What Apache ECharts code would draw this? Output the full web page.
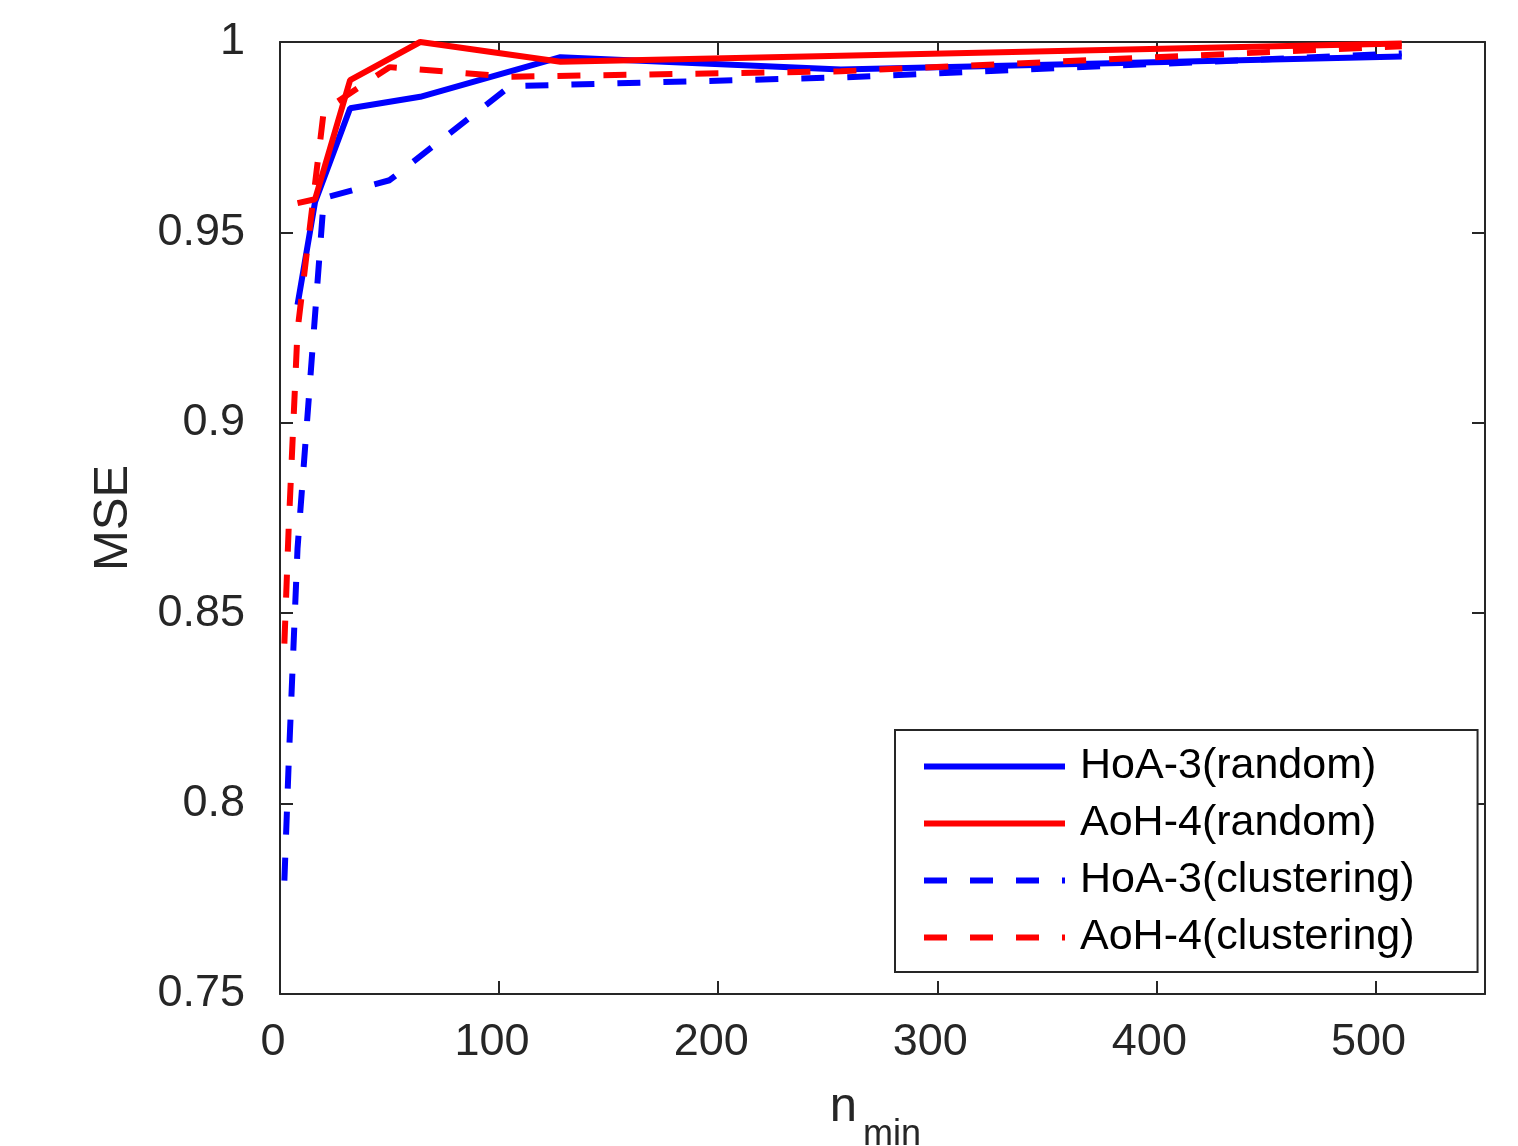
<!DOCTYPE html>
<html>
<head>
<meta charset="utf-8">
<script src="https://cdn.jsdelivr.net/npm/echarts@6/dist/echarts.min.js"></script>
<style>
  html, body { margin: 0; padding: 0; background: #fff; }
  #main { width: 1518px; height: 1146px; }
</style>
</head>
<body>
<div id="main"></div>
<script>
// n_min 取值
const nRandom = [8, 16, 32, 64, 128, 256, 512];
const nClustering = [2, 4, 8, 20, 50, 105, 256, 512];
// MSE
const hoaRandom = [0.931, 0.958, 0.9826, 0.9856, 0.996, 0.9928, 0.9962];
const aohRandom = [0.9577, 0.9587, 0.990, 1.0, 0.9948, 0.9964, 0.9996];
const hoaClustering = [0.7798, 0.8112, 0.867, 0.959, 0.9637, 0.9884, 0.9907, 0.997];
const aohClustering = [0.842, 0.873, 0.9243, 0.982, 0.9934, 0.9909, 0.9923, 0.9989];
const seriesNames = ['HoA-3(random)', 'AoH-4(random)', 'HoA-3(clustering)', 'AoH-4(clustering)'];

(function () {
    let myChart = echarts.init(document.getElementById('main'))
    const font = "'Liberation Sans', Arial, sans-serif"
    const axisColor = '#262626'

    function pairs(xs, ys) {
        return xs.map(function (x, i) { return [x, ys[i]] })
    }

    function makeLine(name, xs, ys, color, dashed) {
        return {
            name: name,
            type: 'line',
            data: pairs(xs, ys),
            symbol: 'none',
            clip: false,
            lineStyle: {
                color: color,
                width: 6,
                type: dashed ? [23, 23] : 'solid'
            },
            itemStyle: { color: color }
        }
    }

    // x 轴公共设置
    let xBase = {
        type: 'value',
        min: 0,
        max: 550,
        interval: 100,
        splitLine: { show: false },
        axisLine: { show: true, onZero: false, lineStyle: { color: axisColor, width: 2 } },
        axisTick: { show: true, inside: true, length: 13, lineStyle: { color: axisColor, width: 2 } }
    }
    let yBase = {
        type: 'value',
        min: 0.75,
        max: 1,
        interval: 0.05,
        splitLine: { show: false },
        axisLine: { show: true, onZero: false, lineStyle: { color: axisColor, width: 2 } },
        axisTick: { show: true, inside: true, length: 13, lineStyle: { color: axisColor, width: 2 } }
    }

    let option = {
        backgroundColor: '#fff',
        animation: false,
        grid: {
            left: 280,
            right: 33,
            top: 42,
            bottom: 152,
            outerBoundsMode: 'none'
        },
        legend: {
            orient: 'vertical',
            left: 895,
            top: 730,
            padding: [15, 63, 13, 26],
            itemWidth: 141,
            itemHeight: 43,
            itemGap: 14,
            borderColor: axisColor,
            borderWidth: 2,
            backgroundColor: '#fff',
            lineStyle: { width: 6 },
            itemStyle: { opacity: 0 },
            textStyle: {
                fontSize: 43,
                fontFamily: font,
                color: '#000',
                lineHeight: 43,
                padding: [0, 0, 0, 10]
            },
            data: seriesNames
        },
        xAxis: [
            Object.assign({}, xBase, {
                position: 'bottom',
                name: '{n|n}{s|min}',
                nameLocation: 'middle',
                nameGap: 89,
                nameTextStyle: {
                    padding: [0, 14, 0, 0],
                    rich: {
                        n: { fontSize: 49, lineHeight: 49, fontFamily: font, color: axisColor, verticalAlign: 'top' },
                        s: { fontSize: 36, lineHeight: 36, fontFamily: font, color: axisColor, verticalAlign: 'top', padding: [34, 0, 0, 6] }
                    }
                },
                axisLabel: {
                    fontSize: 45,
                    lineHeight: 45,
                    fontFamily: font,
                    color: axisColor,
                    margin: 26,
                    padding: [0, 14, 0, 0],
                    showMaxLabel: false
                }
            }),
            Object.assign({}, xBase, {
                position: 'top',
                axisLabel: { show: false }
            })
        ],
        yAxis: [
            Object.assign({}, yBase, {
                position: 'left',
                name: 'MSE',
                nameLocation: 'middle',
                nameGap: 142,
                nameTextStyle: { fontSize: 49, lineHeight: 49, fontFamily: font, color: axisColor },
                axisLabel: {
                    fontSize: 45,
                    fontFamily: font,
                    color: axisColor,
                    margin: 35
                }
            }),
            Object.assign({}, yBase, {
                position: 'right',
                axisLabel: { show: false }
            })
        ],
        series: [
            makeLine(seriesNames[0], nRandom, hoaRandom, '#0000ff', false),
            makeLine(seriesNames[1], nRandom, aohRandom, '#ff0000', false),
            makeLine(seriesNames[2], nClustering, hoaClustering, '#0000ff', true),
            makeLine(seriesNames[3], nClustering, aohClustering, '#ff0000', true)
        ]
    };

    myChart.setOption(option)
})();
</script>
</body>
</html>
